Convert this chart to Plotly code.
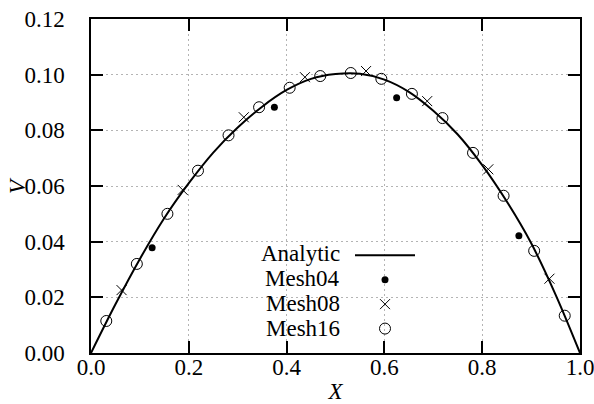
import plotly.graph_objects as go

# Analytic curve
x_analytic = [0.0, 0.05, 0.10, 0.15, 0.20, 0.25, 0.30, 0.35, 0.40, 0.45, 0.50,
              0.55, 0.60, 0.65, 0.70, 0.75, 0.80, 0.85, 0.90, 0.95, 1.0]
v_analytic = [0.0, 0.0175, 0.0338, 0.0485, 0.0610, 0.0720, 0.0810, 0.0885, 0.0945, 0.0985, 0.1002,
              0.1003, 0.0982, 0.0938, 0.0870, 0.0785, 0.0675, 0.0545, 0.0395, 0.0210, 0.0]

x_mesh04 = [0.125, 0.375, 0.625, 0.875]
v_mesh04 = [0.0378, 0.0883, 0.0917, 0.0421]

x_mesh08 = [0.0625, 0.1875, 0.3125, 0.4375, 0.5625, 0.6875, 0.8125, 0.9375]
v_mesh08 = [0.0226, 0.0586, 0.0847, 0.0991, 0.1013, 0.0905, 0.0660, 0.0267]

x_mesh16 = [0.03125, 0.09375, 0.15625, 0.21875, 0.28125, 0.34375, 0.40625, 0.46875,
            0.53125, 0.59375, 0.65625, 0.71875, 0.78125, 0.84375, 0.90625, 0.96875]
v_mesh16 = [0.0115, 0.0320, 0.0500, 0.0655, 0.0782, 0.0883, 0.0953, 0.0995,
            0.1006, 0.0985, 0.0931, 0.0844, 0.0719, 0.0565, 0.0367, 0.0134]

legend_labels = ["Analytic", "Mesh04", "Mesh08", "Mesh16"]

x_ticks = [0, 0.2, 0.4, 0.6, 0.8, 1.0]
x_ticklabels = ["0.0", "0.2", "0.4", "0.6", "0.8", "1.0"]
y_ticks = [0, 0.02, 0.04, 0.06, 0.08, 0.10, 0.12]
y_ticklabels = ["0.00", "0.02", "0.04", "0.06", "0.08", "0.10", "0.12"]

FONT = "Liberation Serif"
FS = 23

L, R, T, B = 91, 14, 19, 51
PW, PH = 594 - L - R, 404 - T - B


def px_x(p):
    return (p - L) / PW


def px_y(p):
    return (404 - B - p) / PH


fig = go.Figure()
fig.add_trace(go.Scatter(x=x_analytic, y=v_analytic, mode="lines",
                         line=dict(color="black", width=2, shape="spline"), name=" "))
fig.add_trace(go.Scatter(x=x_mesh04, y=v_mesh04, mode="markers",
                         marker=dict(symbol="circle", size=7, color="black"), name=" "))
fig.add_trace(go.Scatter(x=x_mesh08, y=v_mesh08, mode="markers",
                         marker=dict(symbol="x-thin-open", size=10, color="black",
                                     line=dict(width=1, color="black")), name=" "))
fig.add_trace(go.Scatter(x=x_mesh16, y=v_mesh16, mode="markers",
                         marker=dict(symbol="circle-open", size=11, color="black",
                                     line=dict(width=1, color="black")), name=" "))

# white backdrop for legend region (covers grid lines)
fig.add_shape(type="rect", xref="paper", yref="paper", x0=px_x(256), x1=px_x(421),
              y0=px_y(337), y1=px_y(236), fillcolor="white", line=dict(width=0), layer="between")

# legend labels (right-aligned, to the left of the symbols)
row_y = [253, 278, 303, 328]
for lab, yy in zip(legend_labels, row_y):
    fig.add_annotation(text=lab, xref="paper", yref="paper", x=px_x(342), y=px_y(yy),
                       xanchor="right", yanchor="middle", showarrow=False,
                       font=dict(family=FONT, size=FS, color="black"))

# y-axis title
fig.add_annotation(text="<i>V</i>", xref="paper", yref="paper", x=px_x(17), y=0.5,
                   xanchor="center", yanchor="middle", textangle=-90, showarrow=False,
                   font=dict(family=FONT, size=FS, color="black"))

axis_common = dict(showline=True, linecolor="black", linewidth=1.5, mirror="ticks",
                   ticks="inside", ticklen=12, tickwidth=1.5, tickcolor="black",
                   showgrid=True, gridcolor="#b4b4b4", griddash="2px,3px", gridwidth=1,
                   zeroline=False, automargin=False,
                   tickfont=dict(family=FONT, size=FS, color="black"))

fig.update_xaxes(range=[0, 1], tickvals=x_ticks, ticktext=x_ticklabels, ticklabelstandoff=-7,
                 ticklabeloverflow="allow",
                 title=dict(text="<i>X</i>", font=dict(family=FONT, size=FS, color="black"), standoff=9),
                 **axis_common)
fig.update_yaxes(range=[0, 0.12], tickvals=y_ticks, ticktext=y_ticklabels, ticklabelstandoff=20,
                 **axis_common)

fig.update_layout(
    width=594, height=404,
    margin=dict(l=L, r=R, t=T, b=B),
    paper_bgcolor="white", plot_bgcolor="white",
    font=dict(family=FONT, size=FS, color="black"),
    showlegend=True,
    legend=dict(x=px_x(350), y=px_y(238), xanchor="left", yanchor="top",
                bgcolor="rgba(0,0,0,0)", font=dict(family=FONT, size=16.5, color="black"),
                tracegroupgap=0, itemwidth=60),
)

fig.write_html("out.html", config={"displayModeBar": False})

# remove default page margin so the figure sits at the window's top-left corner
with open("out.html", "r", encoding="utf-8") as f:
    html = f.read()
html = html.replace("<head>", "<head><style>html,body{margin:0;padding:0;overflow:hidden;}</style>", 1)
with open("out.html", "w", encoding="utf-8") as f:
    f.write(html)
